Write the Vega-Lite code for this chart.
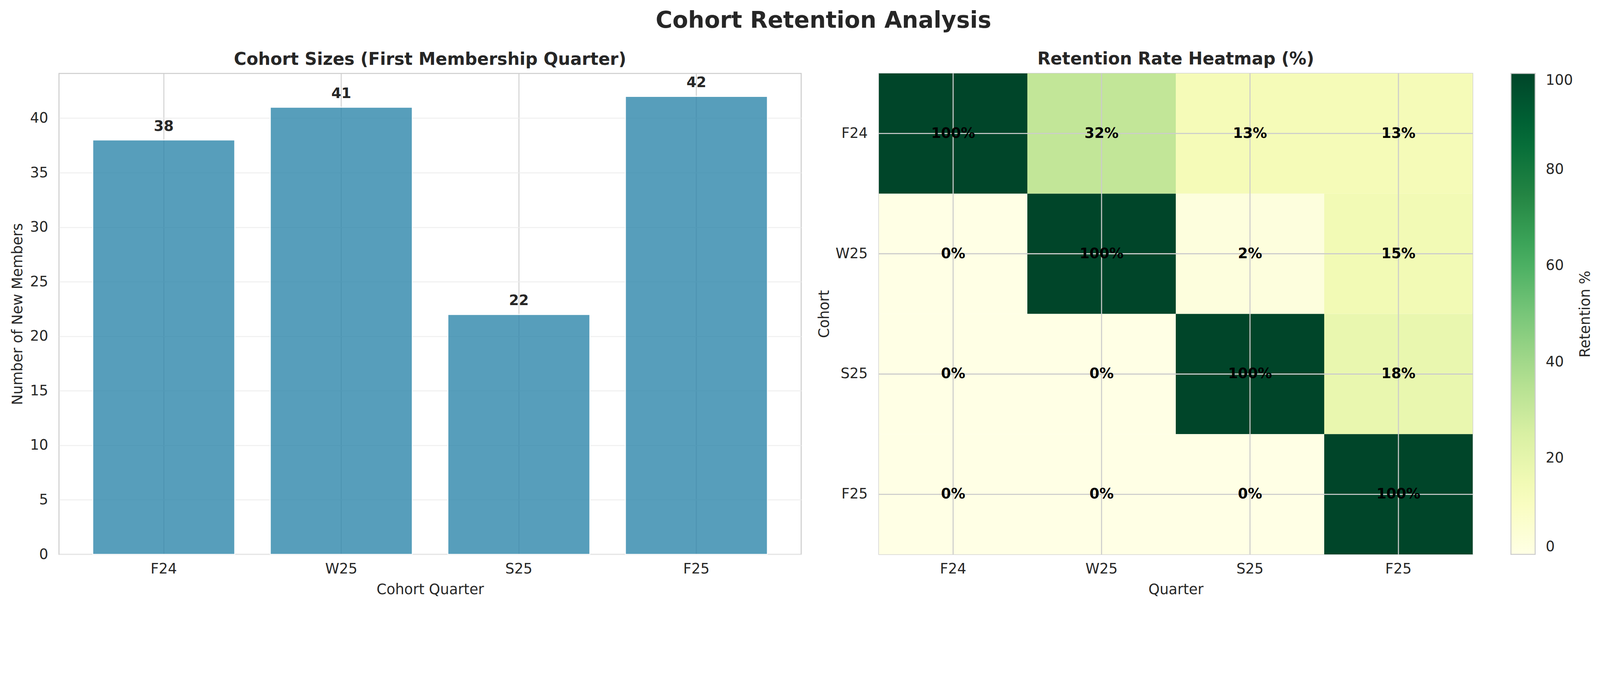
{
  "$schema": "https://vega.github.io/schema/vega-lite/v6.json",
  "description": "Cohort retention analysis: cohort sizes and retention heatmap",
  "padding": {"left": 26, "top": 24, "right": 60, "bottom": 0},
  "background": "white",
  "title": {
    "text": "Cohort Retention Analysis",
    "fontSize": 58.4,
    "fontWeight": "bold",
    "color": "#262626",
    "anchor": "middle",
    "dx": 56,
    "offset": 45
  },
  "config": {
    "font": "DejaVu Sans",
    "view": {"stroke": "#cccccc", "strokeWidth": 2.6},
    "title": {"fontSize": 43.75, "fontWeight": "bold", "color": "#262626", "offset": 13},
    "axis": {
      "domain": false,
      "ticks": false,
      "labelFontSize": 36.5,
      "titleFontSize": 36.5,
      "titleFontWeight": "normal",
      "labelColor": "#262626",
      "titleColor": "#262626",
      "gridWidth": 2.2
    },
    "axisX": {"labelPadding": 19, "titlePadding": 17, "labelAngle": 0},
    "axisY": {"labelPadding": 28, "titlePadding": 12}
  },
  "datasets": {
    "sizes": [
      {"cohort": "F24", "members": 38},
      {"cohort": "W25", "members": 41},
      {"cohort": "S25", "members": 22},
      {"cohort": "F25", "members": 42}
    ],
    "retention": [
      {"cohort": "F24", "quarter": "F24", "pct": 100, "label": "100%"},
      {"cohort": "F24", "quarter": "W25", "pct": 31.6, "label": "32%"},
      {"cohort": "F24", "quarter": "S25", "pct": 13.2, "label": "13%"},
      {"cohort": "F24", "quarter": "F25", "pct": 13.2, "label": "13%"},
      {"cohort": "W25", "quarter": "F24", "pct": 0, "label": "0%"},
      {"cohort": "W25", "quarter": "W25", "pct": 100, "label": "100%"},
      {"cohort": "W25", "quarter": "S25", "pct": 2.4, "label": "2%"},
      {"cohort": "W25", "quarter": "F25", "pct": 14.6, "label": "15%"},
      {"cohort": "S25", "quarter": "F24", "pct": 0, "label": "0%"},
      {"cohort": "S25", "quarter": "W25", "pct": 0, "label": "0%"},
      {"cohort": "S25", "quarter": "S25", "pct": 100, "label": "100%"},
      {"cohort": "S25", "quarter": "F25", "pct": 18.2, "label": "18%"},
      {"cohort": "F25", "quarter": "F24", "pct": 0, "label": "0%"},
      {"cohort": "F25", "quarter": "W25", "pct": 0, "label": "0%"},
      {"cohort": "F25", "quarter": "S25", "pct": 0, "label": "0%"},
      {"cohort": "F25", "quarter": "F25", "pct": 100, "label": "100%"}
    ]
  },
  "spacing": 38,
  "hconcat": [
    {
      "title": "Cohort Sizes (First Membership Quarter)",
      "width": 1900,
      "height": 1231,
      "data": {"name": "sizes"},
      "encoding": {
        "x": {
          "field": "cohort",
          "type": "nominal",
          "sort": ["F24", "W25", "S25", "F25"],
          "scale": {"paddingInner": 0.2, "paddingOuter": 0.19},
          "axis": {"title": "Cohort Quarter", "grid": true, "gridColor": "#cccccc", "bandPosition": 0.5}
        },
        "y": {
          "field": "members",
          "type": "quantitative",
          "scale": {"domain": [0, 44.1], "nice": false},
          "axis": {
            "title": "Number of New Members",
            "values": [0, 5, 10, 15, 20, 25, 30, 35, 40],
            "grid": true,
            "gridColor": "#ececec"
          }
        }
      },
      "layer": [
        {
          "mark": {
            "type": "bar",
            "color": "#2E86AB",
            "opacity": 0.8,
            "stroke": "white",
            "strokeWidth": 2.6
          }
        },
        {
          "mark": {
            "type": "text",
            "fontWeight": "bold",
            "fontSize": 36.5,
            "color": "#262626",
            "baseline": "alphabetic",
            "dy": -23.6
          },
          "encoding": {"text": {"field": "members", "type": "quantitative"}}
        }
      ]
    },
    {
      "title": "Retention Rate Heatmap (%)",
      "width": 1520,
      "height": 1231,
      "data": {"name": "retention"},
      "layer": [
        {
          "mark": {"type": "rect"},
          "encoding": {
            "x": {
              "field": "quarter",
              "type": "nominal",
              "sort": ["F24", "W25", "S25", "F25"],
              "scale": {"paddingInner": 0, "paddingOuter": 0},
              "axis": {"title": "Quarter", "grid": false}
            },
            "y": {
              "field": "cohort",
              "type": "nominal",
              "sort": ["F24", "W25", "S25", "F25"],
              "scale": {"paddingInner": 0, "paddingOuter": 0},
              "axis": {"title": "Cohort", "grid": false, "titlePadding": 9, "labelPadding": 29}
            },
            "color": {
              "field": "pct",
              "type": "quantitative",
              "scale": {
                "type": "linear",
                "domain": [0, 12.5, 25, 37.5, 50, 62.5, 75, 87.5, 100],
                "range": ["#ffffe5", "#f7fcb9", "#d9f0a3", "#addd8e", "#78c679", "#41ab5d", "#238443", "#006837", "#004529"],
                "interpolate": "rgb"
              },
              "legend": {
                "title": "Retention %",
                "orient": "right",
                "direction": "vertical",
                "offset": 95,
                "gradientLength": 1231,
                "gradientThickness": 62,
                "gradientStrokeColor": "#cccccc",
                "gradientStrokeWidth": 2.6,
                "values": [0, 20, 40, 60, 80, 100],
                "labelFontSize": 36.5,
                "labelColor": "#262626",
                "labelOffset": 27,
                "titleFontSize": 36.5,
                "titleFontWeight": "normal",
                "titleColor": "#262626",
                "titleOrient": "right",
                "titleAnchor": "middle",
                "titleBaseline": "top",
                "titleLimit": 2000,
                "titlePadding": 14,
                "encoding": {"title": {"angle": {"value": 270}}}
              }
            }
          }
        },
        {
          "mark": {"type": "rule", "color": "#cccccc", "strokeWidth": 2.2},
          "encoding": {
            "x": {"field": "quarter", "type": "nominal", "sort": ["F24", "W25", "S25", "F25"], "bandPosition": 0.5}
          }
        },
        {
          "mark": {"type": "rule", "color": "#cccccc", "strokeWidth": 2.2},
          "encoding": {
            "y": {"field": "cohort", "type": "nominal", "sort": ["F24", "W25", "S25", "F25"], "bandPosition": 0.5}
          }
        },
        {
          "mark": {
            "type": "text",
            "fontWeight": "bold",
            "fontSize": 36.5,
            "color": "black",
            "baseline": "middle"
          },
          "encoding": {
            "x": {"field": "quarter", "type": "nominal", "sort": ["F24", "W25", "S25", "F25"]},
            "y": {"field": "cohort", "type": "nominal", "sort": ["F24", "W25", "S25", "F25"]},
            "text": {"field": "label", "type": "nominal"}
          }
        }
      ]
    }
  ]
}
